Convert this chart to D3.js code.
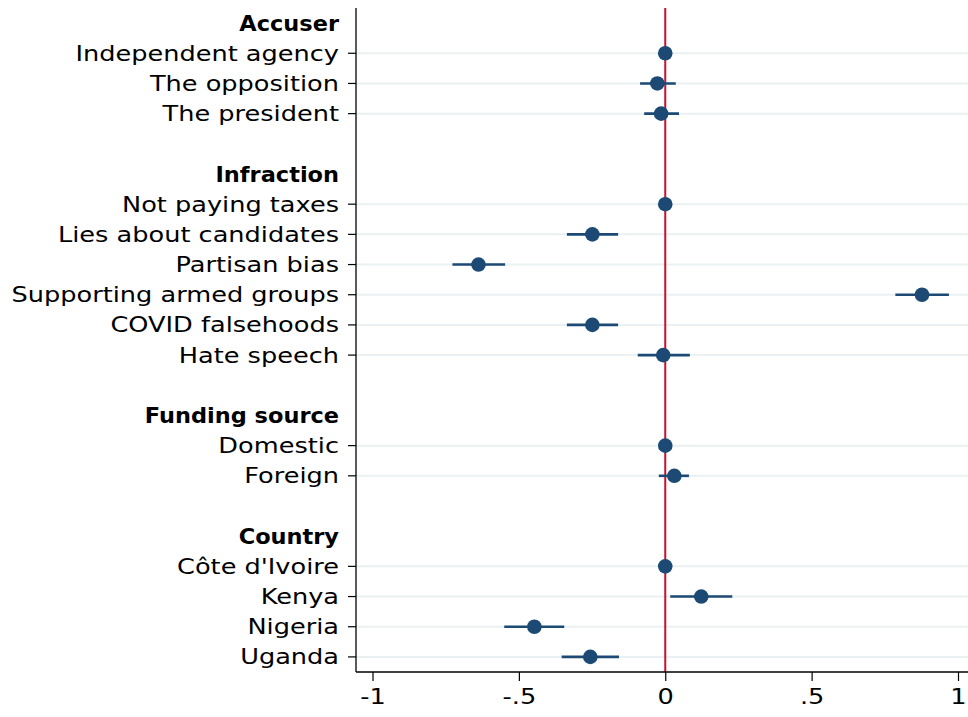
<!DOCTYPE html>
<html>
<head>
<meta charset="utf-8">
<script src="https://cdn.jsdelivr.net/npm/d3@7"></script>
<style>
  html, body { margin: 0; padding: 0; background: #fff; }
  svg { display: block; }
</style>
</head>
<body>
<svg id="chart" width="968" height="717"></svg>
<script>
// Rows from top to bottom; "" marks a spacer row, headers are listed separately.
const rowLabels = [
  "Accuser", "Independent agency", "The opposition", "The president", "",
  "Infraction", "Not paying taxes", "Lies about candidates", "Partisan bias",
  "Supporting armed groups", "COVID falsehoods", "Hate speech", "",
  "Funding source", "Domestic", "Foreign", "",
  "Country", "Côte d'Ivoire", "Kenya", "Nigeria", "Uganda"
];
const headers = ["Accuser", "Infraction", "Funding source", "Country"];

// Point estimates and 95% intervals (null = no estimate on that row)
const estimates = [
  null, 0, -0.027, -0.014, null,
  null, 0, -0.249, -0.638, 0.877, -0.249, -0.007, null,
  null, 0, 0.031, null,
  null, 0, 0.123, -0.447, -0.256
];
const ciLow = [
  null, 0, -0.086, -0.072, null,
  null, 0, -0.336, -0.727, 0.786, -0.336, -0.094, null,
  null, 0, -0.022, null,
  null, 0, 0.017, -0.550, -0.354
];
const ciHigh = [
  null, 0, 0.036, 0.047, null,
  null, 0, -0.161, -0.547, 0.969, -0.161, 0.084, null,
  null, 0, 0.081, null,
  null, 0, 0.229, -0.345, -0.158
];
const xTicks = [-1, -0.5, 0, 0.5, 1];
const xTickLabels = ["-1", "-.5", "0", ".5", "1"];

const svg = d3.select("#chart");
const plotLeft = 356, plotRight = 968, plotTop = 8, plotBottom = 672;
const font = "'DejaVu Sans', sans-serif";
const fontSize = 21;
const stretchRegular = 1.22;
const stretchBold = 1.07;

const x = d3.scaleLinear().domain([-1, 1]).range([372.5, 958]);
const y = d3.scaleLinear().domain([-0.5, rowLabels.length - 0.5]).range([plotTop, plotBottom]);

const rows = rowLabels.map((label, i) => ({
  label, i,
  header: headers.includes(label),
  est: estimates[i], lo: ciLow[i], hi: ciHigh[i]
}));
const dataRows = rows.filter(r => r.est !== null);

// Horizontal grid lines for estimate rows
svg.append("g").selectAll("line").data(dataRows).join("line")
  .attr("x1", plotLeft).attr("x2", plotRight)
  .attr("y1", d => y(d.i)).attr("y2", d => y(d.i))
  .attr("stroke", "#eaf1f3").attr("stroke-width", 2);

// Reference line at zero
svg.append("line")
  .attr("x1", x(0)).attr("x2", x(0))
  .attr("y1", plotTop).attr("y2", plotBottom)
  .attr("stroke", "#c8102e").attr("stroke-width", 2);

// Confidence intervals
svg.append("g").selectAll("line").data(dataRows.filter(d => d.hi > d.lo)).join("line")
  .attr("x1", d => x(d.lo)).attr("x2", d => x(d.hi))
  .attr("y1", d => y(d.i)).attr("y2", d => y(d.i))
  .attr("stroke", "#1d4a74").attr("stroke-width", 2.6);

// Point estimates
svg.append("g").selectAll("circle").data(dataRows).join("circle")
  .attr("cx", d => x(d.est)).attr("cy", d => y(d.i)).attr("r", 7.3)
  .attr("fill", "#1d4a74");

// Left axis line and ticks
svg.append("line")
  .attr("x1", plotLeft).attr("x2", plotLeft)
  .attr("y1", plotTop).attr("y2", plotBottom)
  .attr("stroke", "#000").attr("stroke-width", 1.3);
svg.append("g").selectAll("line").data(dataRows).join("line")
  .attr("x1", plotLeft - 8).attr("x2", plotLeft)
  .attr("y1", d => y(d.i)).attr("y2", d => y(d.i))
  .attr("stroke", "#000").attr("stroke-width", 1.2);

// Row labels (headers in bold)
svg.append("g").selectAll("text").data(rows.filter(r => r.label !== "")).join("text")
  .attr("transform", d => `translate(${plotLeft - 17},${y(d.i)}) scale(${d.header ? stretchBold : stretchRegular},1)`)
  .attr("text-anchor", "end")
  .attr("dy", "0.36em")
  .attr("font-family", font)
  .attr("font-size", fontSize)
  .attr("font-weight", d => d.header ? "bold" : "normal")
  .attr("fill", "#000")
  .text(d => d.label);

// Bottom axis
const xAxis = d3.axisBottom(x).tickValues(xTicks)
  .tickFormat((d, i) => xTickLabels[i]).tickSize(9).tickPadding(8);
const gx = svg.append("g").attr("transform", `translate(0,${plotBottom})`).call(xAxis);
gx.select(".domain").remove();
gx.append("line").attr("x1", plotLeft).attr("x2", plotRight)
  .attr("y1", 0).attr("y2", 0).attr("stroke", "#000").attr("stroke-width", 1.3);
gx.selectAll(".tick line").attr("stroke", "#000").attr("stroke-width", 1.2);
gx.selectAll(".tick text")
  .attr("font-family", font).attr("font-size", fontSize).attr("fill", "#000")
  .attr("transform", `scale(${stretchRegular},1)`);
</script>
</body>
</html>
